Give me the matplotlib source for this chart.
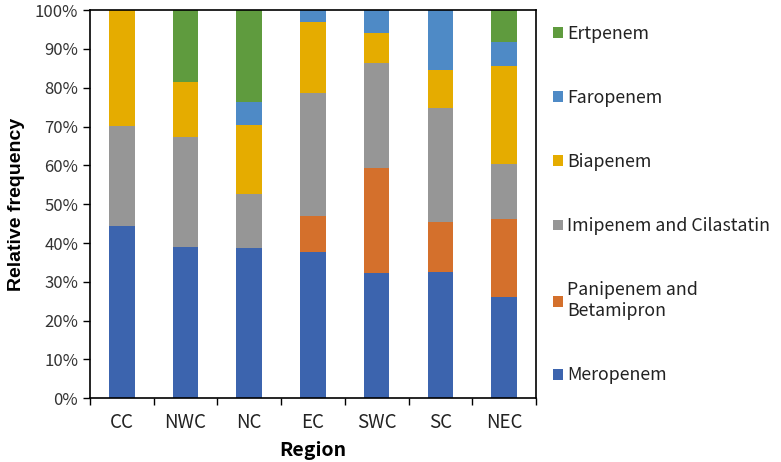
import numpy as np
import matplotlib.pyplot as plt
from matplotlib.ticker import FuncFormatter, FixedLocator

plt.rcParams['font.family'] = ['Noto Sans CJK SC', 'DejaVu Sans']

regions = ['CC', 'NWC', 'NC', 'EC', 'SWC', 'SC', 'NEC']
# shares in percent, bottom to top
meropenem = [44.4, 39.1, 38.7, 37.7, 32.2, 32.5, 26.2]
panipenem = [0.0, 0.0, 0.0, 9.3, 27.2, 13.0, 19.9]
imipenem = [25.8, 28.2, 14.0, 31.7, 26.9, 29.2, 14.2]
biapenem = [29.8, 14.2, 17.6, 18.3, 7.8, 9.8, 25.4]
faropenem = [0.0, 0.0, 6.1, 3.0, 5.9, 15.5, 6.1]
ertpenem = [0.0, 18.5, 23.6, 0.0, 0.0, 0.0, 8.2]

series = [
    ('Meropenem', meropenem, '#3c64ae'),
    ('Panipenem and\nBetamipron', panipenem, '#d4702c'),
    ('Imipenem and Cilastatin', imipenem, '#969696'),
    ('Biapenem', biapenem, '#e5ac00'),
    ('Faropenem', faropenem, '#4e8ac6'),
    ('Ertpenem', ertpenem, '#5f9b3e'),
]

fig = plt.figure(figsize=(7.81, 4.62), dpi=100)
ax = fig.add_axes([0.1152, 0.138, 0.571, 0.840])

x = np.arange(len(regions))
bottom = np.zeros(len(regions))
handles = []
for name, vals, col in series:
    vals = np.array(vals)
    b = ax.bar(x, vals, 0.4, bottom=bottom, color=col, label=name)
    handles.append(b)
    bottom += vals

ax.set_xlim(-0.5, len(regions) - 0.5)
ax.set_ylim(0, 100)
ax.set_yticks(np.arange(0, 101, 10))
ax.yaxis.set_major_formatter(FuncFormatter(lambda v, p: '%d%%' % v))
ax.set_xticks(x)
ax.set_xticklabels(regions)
ax.xaxis.set_minor_locator(FixedLocator(np.arange(-0.5, len(regions), 1)))
ax.tick_params(axis='x', which='major', length=0, pad=10, labelsize=13.5, labelcolor='#222222')
ax.tick_params(axis='x', which='minor', length=5, width=1, direction='out')
ax.tick_params(axis='y', length=5, width=1, direction='out', labelsize=12, labelcolor='#333333')
for s in ax.spines.values():
    s.set_linewidth(1.2)
    s.set_color('black')

ax.set_xlabel('Region', fontsize=14, fontweight='bold', labelpad=6)
ax.set_ylabel('Relative frequency', fontsize=14, fontweight='bold', labelpad=7,
              family=['Liberation Sans', 'DejaVu Sans'])

leg = ax.legend(handles[::-1], [h.get_label() for h in handles[::-1]],
                loc='upper left', bbox_to_anchor=(1.01, 0.995), frameon=False,
                fontsize=12.8, handlelength=0.55, handleheight=0.55,
                handletextpad=0.25, labelspacing=2.6, borderaxespad=0.3)
for t in leg.get_texts():
    t.set_color('#222222')

plt.savefig('out.png', format='png')
